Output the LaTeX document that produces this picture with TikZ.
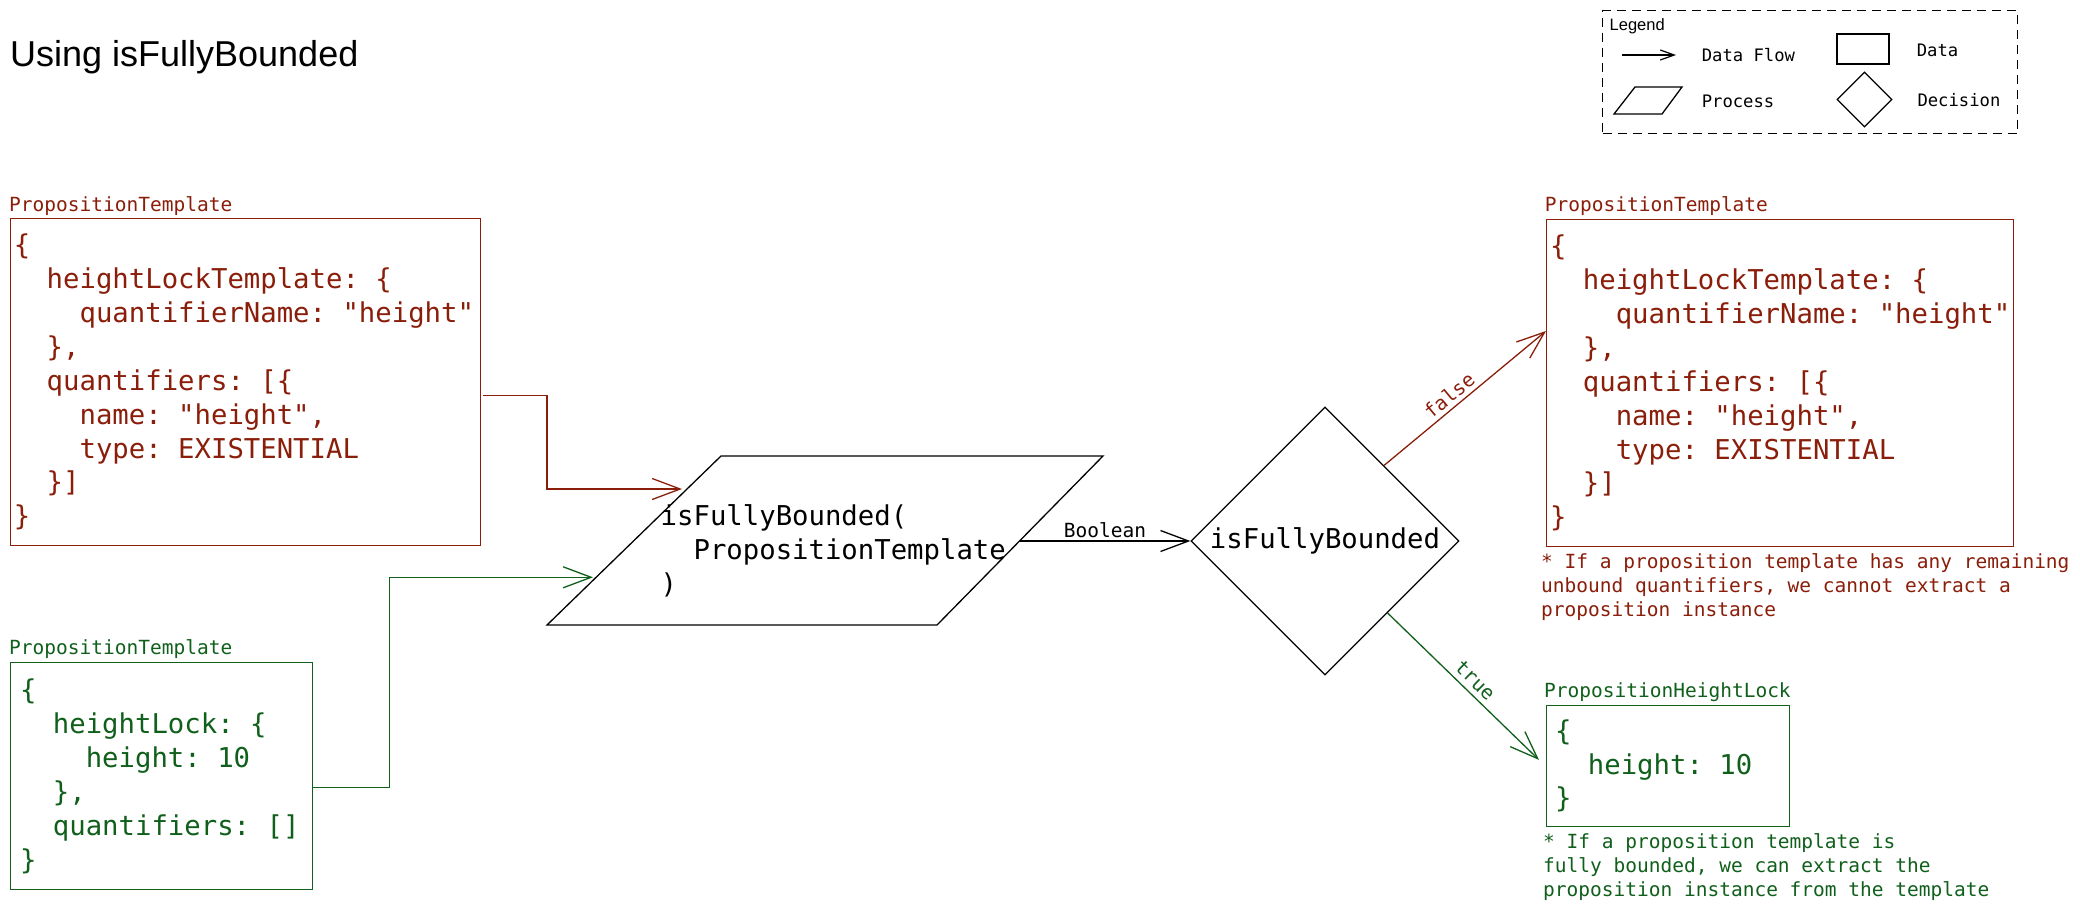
\documentclass[tikz,border=0pt]{standalone}
\usepackage{fontspec}
\setmainfont{Liberation Sans}
\newfontfamily\cmono[Ligatures=TeXOff]{DejaVu Sans Mono}
\usetikzlibrary{arrows.meta,shapes.geometric,calc}
\definecolor{rc}{RGB}{138,30,10}
\definecolor{gc}{RGB}{16,96,28}
\newcommand\ia{\hphantom{xx}}
\newcommand\ib{\hphantom{xxxx}}
\newcommand\sx{\hphantom{x}}
\begin{document}
\begin{tikzpicture}[x=1pt,y=-1pt,
  codefont/.style={font=\cmono\fontsize{27.3}{33.9}\selectfont\frenchspacing},
  smallmono/.style={font=\cmono\fontsize{19.5}{24}\selectfont\frenchspacing},
  databox/.style={draw, line width=1.3pt, anchor=north west, inner ysep=0pt, align=left, codefont},
  lbl/.style={anchor=west, inner sep=0pt, smallmono},
  note/.style={anchor=north west, inner sep=0pt, align=left, smallmono},
  flow/.style={line width=1.3pt, -{Straight Barb[length=28pt,width=21pt]}},
  shapeline/.style={line width=1.3pt},
  legtext/.style={anchor=west, inner sep=0pt, font=\cmono\fontsize{17.2}{20}\selectfont\frenchspacing},
]
\useasboundingbox (0,0) rectangle (2080,913);
\fill[white] (0,0) rectangle (2080,913);

% title
\node[anchor=west, inner sep=0pt, font=\fontsize{36}{40}\selectfont] (title) at (10,57.5) {Using isFullyBounded};

% legend
\node[draw, line width=1.3pt, dash pattern=on 9pt off 6pt, anchor=north west, minimum width=415, minimum height=123, inner sep=0pt] (legend) at (1602,10) {};
\node[anchor=west, inner sep=0pt, font=\fontsize{16.5}{20}\selectfont] (legtitle) at (1609.5,26.5) {Legend};
\coordinate (lgA) at (1622,55);
\coordinate (lgB) at (1676,55);
\draw[line width=1.2pt, -{Straight Barb[length=14pt,width=10pt]}] (lgA) -- (lgB);
\node[legtext] (lgflow) at (1701.6,55) {Data\sx Flow};
\node[draw, line width=1.3pt, minimum width=52, minimum height=30, inner sep=0pt] (lgdata) at (1863,49) {};
\node[legtext] (lgdatat) at (1916.6,50) {Data};
\coordinate (lpA) at (1614,114);
\coordinate (lpB) at (1662,114);
\coordinate (lpC) at (1682,87);
\coordinate (lpD) at (1635,87);
\draw[shapeline] (lpA) -- (lpB) -- (lpC) -- (lpD) -- cycle;
\node[legtext] (lgproc) at (1701.6,101.5) {Process};
\node[diamond, draw, line width=1.3pt, minimum width=55, minimum height=55, inner sep=0pt, aspect=1] (lgdec) at (1864.5,99.5) {};
\node[legtext] (lgdect) at (1917.3,100) {Decision};

% input boxes
\node[lbl, text=rc] (rb1l) at (9,206) {PropositionTemplate};
\node[databox, draw=rc, text=rc, minimum width=470, minimum height=327, inner xsep=3.2pt, text width=463.6pt] (rb1) at (10,218) {%
\{\\
\ia heightLockTemplate:\sx\{\\
\ib quantifierName:\sx"height"\\
\ia\},\\
\ia quantifiers:\sx[\{\\
\ib name:\sx"height",\\
\ib type:\sx EXISTENTIAL\\
\ia\}]\\
\}};

\node[lbl, text=gc] (gb2l) at (9,649.3) {PropositionTemplate};
\node[databox, draw=gc, text=gc, minimum width=302, minimum height=227, inner xsep=9.4pt, text width=283.2pt] (gb2) at (10,662) {%
\{\\
\ia heightLock:\sx\{\\
\ib height:\sx 10\\
\ia\},\\
\ia quantifiers:\sx[]\\
\}};

% process
\coordinate (pBL) at (547,625);
\coordinate (pBR) at (937,625);
\coordinate (pTR) at (1103,456);
\coordinate (pTL) at (721,456);
\draw[shapeline] (pBL) -- (pBR) -- (pTR) -- (pTL) -- cycle;
\node[anchor=west, inner sep=0pt, align=left, codefont] (procText) at (660.5,551) {isFullyBounded(\\
\ia PropositionTemplate\\
)};
\coordinate (procInR) at (682,489);
\coordinate (procInG) at (593,577.3);
\coordinate (procOut) at (1019.5,541);

% decision
\node[diamond, draw, line width=1.3pt, minimum width=268, minimum height=268, inner sep=0pt, aspect=1, codefont] (dec) at (1325,541) {isFullyBounded};

% output boxes
\node[lbl, text=rc] (rb3l) at (1544.7,205.7) {PropositionTemplate};
\node[databox, draw=rc, text=rc, minimum width=467, minimum height=327, inner xsep=3.4pt, text width=460.2pt] (rb3) at (1546,219) {%
\{\\
\ia heightLockTemplate:\sx\{\\
\ib quantifierName:\sx"height"\\
\ia\},\\
\ia quantifiers:\sx[\{\\
\ib name:\sx"height",\\
\ib type:\sx EXISTENTIAL\\
\ia\}]\\
\}};
\node[note, text=rc] (rb3n) at (1541,553.5) {* If a proposition template has any remaining\\
unbound quantifiers, we cannot extract a\\
proposition instance};

\node[lbl, text=gc] (gb4l) at (1544,692.5) {PropositionHeightLock};
\node[databox, draw=gc, text=gc, minimum width=243, minimum height=120.5, inner xsep=8.4pt, text width=226.2pt] (gb4) at (1546,705) {%
\{\\
\ia height:\sx 10\\
\}};
\node[note, text=gc] (gb4n) at (1543,833.5) {* If a proposition template is\\
fully bounded, we can extract the\\
proposition instance from the template};

% connectors
\coordinate (rOut) at ([xshift=2pt,yshift=-13.5pt]rb1.east);
\draw[flow, draw=rc] (rOut) -- (rOut -| pBL) |- (procInR);
\coordinate (gOut) at ([yshift=-11.5pt]gb2.east);
\draw[flow, draw=gc] (gOut) -- ++(76,0) |- (procInG);
\draw[flow] (procOut) -- node[above, inner sep=2.5pt, smallmono] (boolLbl) {Boolean} (dec.west);
\draw[flow, draw=rc] (dec.52) -- node[sloped, above, pos=0.45, inner sep=4pt, text=rc, smallmono] (falseLbl) {false} ([yshift=-112pt]rb3.north west);
\draw[flow, draw=gc] (dec.-49) -- node[sloped, above, pos=0.52, inner sep=5pt, text=gc, smallmono] (trueLbl) {true} ([xshift=-7pt,yshift=6pt]gb4.west);
\end{tikzpicture}
\end{document}
